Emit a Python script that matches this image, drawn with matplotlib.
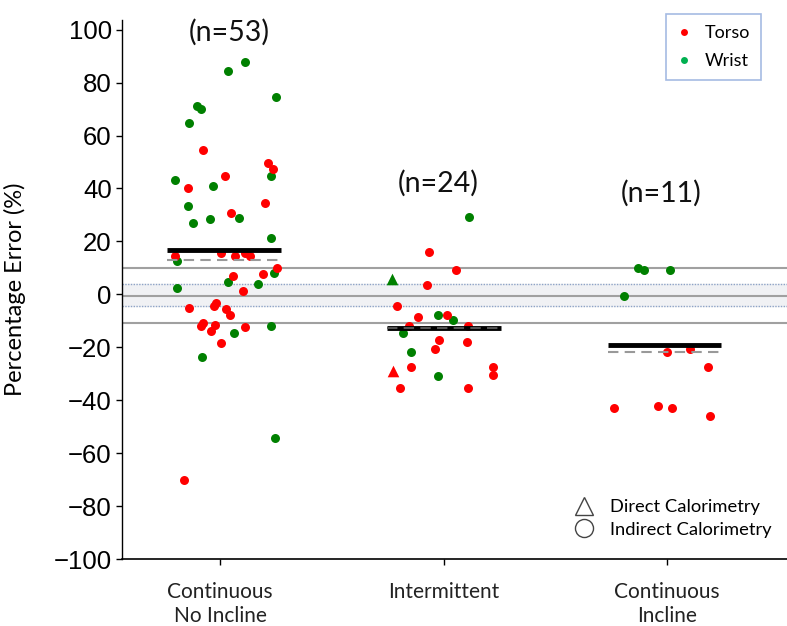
import matplotlib.pyplot as plt
from matplotlib.lines import Line2D

# categories and labels
categories = ['Continuous\nNo Incline', 'Intermittent', 'Continuous\nIncline']
n_labels = ['(n=53)', '(n=24)', '(n=11)']
n_label_pos = [(1.040, 99.0), (1.978, 42.0), (2.972, 38.2)]

# Continuous, no incline
g1_wrist_x = [1.113, 1.037, 1.249, 0.898, 0.915, 0.861, 0.800, 0.970, 1.228, 0.855, 0.881, 0.955,
              1.085, 1.228, 0.809, 1.242, 1.036, 1.171, 0.809, 1.064, 1.228, 0.921, 1.247]
g1_wrist_y = [87.8, 84.5, 74.6, 71.1, 70.0, 64.8, 43.2, 40.9, 44.8, 33.4, 27.1, 28.4,
              28.9, 21.3, 12.5, 8.0, 4.6, 4.1, 2.6, -14.6, -11.9, -23.5, -54.3]
g1_torso_x = [0.923, 1.213, 1.236, 1.024, 0.855, 1.201, 1.051, 0.800, 1.003, 1.066, 1.113, 1.134,
              1.255, 1.191, 1.060, 1.102, 0.861, 0.982, 0.972, 1.026, 1.045, 0.914, 0.923, 0.976,
              0.961, 1.112, 1.003, 0.840]
g1_torso_y = [54.5, 49.5, 47.2, 44.8, 40.3, 34.5, 30.6, 14.5, 15.5, 14.4, 15.5, 14.4,
              10.1, 7.6, 7.0, 1.2, -5.0, -3.3, -4.3, -5.6, -7.8, -11.8, -10.9, -11.4,
              -13.7, -12.4, -18.2, -70.0]

# Intermittent (circles = indirect calorimetry)
g2_wrist_x = [2.115, 1.974, 2.044, 1.817, 1.853, 1.974]
g2_wrist_y = [29.4, -7.7, -9.6, -14.4, -21.6, -30.8]
g2_torso_x = [1.935, 2.056, 1.928, 1.793, 1.887, 2.014, 1.847, 2.111, 1.981, 2.104, 1.962,
              1.853, 2.220, 2.220, 1.805, 2.111]
g2_torso_y = [16.2, 9.2, 3.6, -4.3, -8.4, -7.7, -11.9, -11.9, -17.2, -17.8, -20.6,
              -27.5, -27.5, -30.4, -35.4, -35.4]
# Intermittent (triangles = direct calorimetry)
g2_wrist_tri_x = [1.768]
g2_wrist_tri_y = [5.7]
g2_torso_tri_x = [1.773]
g2_torso_tri_y = [-28.8]

# Continuous, incline
g3_wrist_x = [2.872, 2.898, 3.013, 2.809]
g3_wrist_y = [10.1, 9.2, 9.2, -0.5]
g3_torso_x = [3.001, 3.103, 3.185, 2.763, 2.958, 3.021, 3.192]
g3_torso_y = [-21.8, -20.6, -27.5, -42.9, -42.3, -42.9, -45.8]

# group means (solid) and medians (dashed)
mean_vals = [16.9, -12.8, -19.1]
median_vals = [12.9, -12.8, -21.8]
line_starts = [0.764, 1.747, 2.737]
line_ends = [1.272, 2.256, 3.240]

# reference band
ref_lines = [9.9, -0.45, -10.9]
band = (-4.3, 3.85)

red = '#ff0000'
green = '#008000'

fig = plt.figure(figsize=(7.87, 6.26), dpi=100)
ax = fig.add_axes([0.1544, 0.1065, 0.8456, 0.8615])

# shaded band and reference lines
ax.axhspan(band[0], band[1], color='#f0f1f4', zorder=0)
for b in band:
    ax.axhline(b, color='#8ea3c6', lw=1.0, ls=(0, (1, 1)), zorder=1)
for r in ref_lines:
    ax.axhline(r, color='#a0a0a0', lw=1.5, zorder=1)

# points
ms = 42
ax.scatter(g1_wrist_x + g2_wrist_x + g3_wrist_x, g1_wrist_y + g2_wrist_y + g3_wrist_y,
           s=ms, color=green, lw=0, zorder=3)
ax.scatter(g1_torso_x + g2_torso_x + g3_torso_x, g1_torso_y + g2_torso_y + g3_torso_y,
           s=ms, color=red, lw=0, zorder=3)
ax.scatter(g2_wrist_tri_x, g2_wrist_tri_y, s=70, marker='^', color=green, lw=0, zorder=3)
ax.scatter(g2_torso_tri_x, g2_torso_tri_y, s=70, marker='^', color=red, lw=0, zorder=3)

# mean and median lines
for i in range(3):
    ax.plot([line_starts[i], line_ends[i]], [mean_vals[i], mean_vals[i]],
            color='black', lw=3.5, solid_capstyle='butt', zorder=4)
    dash_color = '#555555' if i == 1 else '#999999'
    ax.plot([line_starts[i], line_ends[i]], [median_vals[i], median_vals[i]],
            color=dash_color, lw=1.5, ls=(0, (5, 3)), zorder=5)

# n labels
for lab, (x, y) in zip(n_labels, n_label_pos):
    ax.text(x, y, lab, ha='center', va='center', fontsize=20.5, family='Lato', color='#111111')

# axes styling
ax.set_xlim(0.559, 3.537)
ax.set_ylim(-100, 103.6)
ax.set_xticks([1, 2, 3])
ax.set_xticklabels(categories, family='Lato', fontsize=15, color='#222222', linespacing=1.3)
yticks = list(range(100, -101, -20))
ax.set_yticks(yticks)
ax.set_yticklabels([str(t).replace('-', '\u2212') for t in yticks],
                   family='Liberation Sans', fontsize=18.5)
ax.tick_params(axis='y', length=4, width=1, pad=3)
ax.tick_params(axis='x', length=4, width=1, pad=12)
for side in ['top', 'right']:
    ax.spines[side].set_visible(False)
ax.spines['left'].set_linewidth(1.0)
ax.spines['bottom'].set_linewidth(1.2)
ax.set_ylabel('Percentage Error (%)', family='Lato', fontsize=17)
ax.yaxis.set_label_coords(-0.1435, 0.5)

# legends
h1 = [Line2D([], [], ls='', marker='o', ms=5, mec='none', mfc=red),
      Line2D([], [], ls='', marker='o', ms=5, mec='none', mfc='#00b050')]
leg1 = fig.legend(h1, ['Torso', 'Wrist'], loc='upper left',
                  bbox_to_anchor=(666 / 787, 1 - 14 / 626), frameon=True, fancybox=False,
                  prop={'family': 'Lato', 'size': 13}, handletextpad=0.75, borderpad=0.6,
                  labelspacing=0.7, handlelength=0.8, borderaxespad=0)
leg1.get_frame().set_edgecolor('#8faadc')
leg1.get_frame().set_linewidth(1.2)

h2 = [Line2D([], [], ls='', marker='^', ms=13, mec='#444444', mfc='none', mew=1.0),
      Line2D([], [], ls='', marker='o', ms=13, mec='#444444', mfc='none', mew=1.0)]
fig.legend(h2, ['Direct Calorimetry', 'Indirect Calorimetry'], loc='upper left',
           bbox_to_anchor=(564 / 787, 1 - 492 / 626), frameon=False,
           prop={'family': 'Lato', 'size': 13.2}, handletextpad=0.7, labelspacing=0.35,
           handlelength=1.4, borderaxespad=0)

fig.savefig('out.png', dpi=100)
